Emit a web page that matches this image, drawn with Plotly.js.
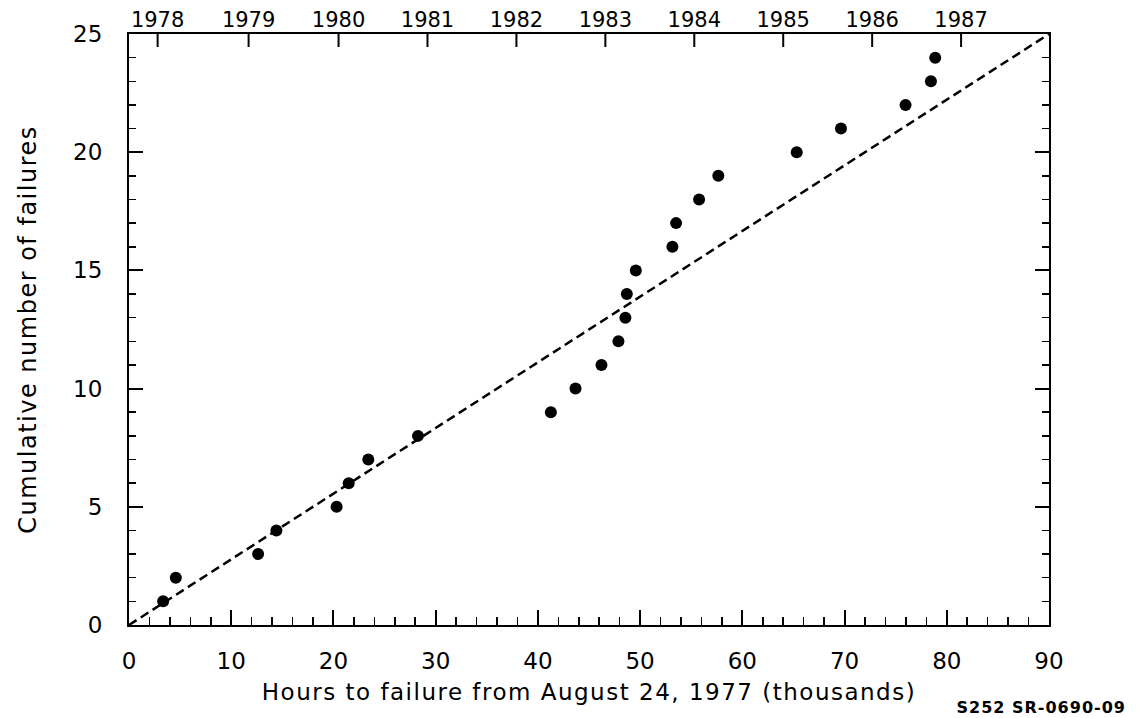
<!DOCTYPE html>
<html>
<head>
<meta charset="utf-8">
<script src="https://cdn.plot.ly/plotly-3.0.1.min.js"></script>
<style>
html,body{margin:0;padding:0;background:#fff;}
#chart{width:1140px;height:718px;}
#chart .xtitle{letter-spacing:1.5px;}
#chart .ytitle{letter-spacing:1.5px;}
#chart .annotation-text{letter-spacing:1px;}
</style>
</head>
<body>
<div id="chart"></div>
<script>
// Hours to failure (thousands) and cumulative number of failures
const hoursToFailure = [3.34, 4.58, 12.63, 14.42, 20.31, 21.49, 23.41, 28.27,
  41.27, 43.68, 46.22, 47.88, 48.56, 48.70, 49.58, 53.16, 53.52, 55.77, 57.65,
  65.32, 69.65, 75.97, 78.45, 78.87];
const cumulativeFailures = [1, 2, 3, 4, 5, 6, 7, 8, 9, 10, 11, 12, 13, 14, 15,
  16, 17, 18, 19, 20, 21, 22, 23, 24];
// Fitted trend line endpoints
const fitHours = [0, 90];
const fitFailures = [0, 25];
// Top axis: calendar years
const yearTickVals = [2.8, 11.7, 20.5, 29.2, 37.9, 46.6, 55.3, 64.0, 72.7, 81.4];
const yearTickText = ['1978', '1979', '1980', '1981', '1982', '1983', '1984', '1985', '1986', '1987'];
// Bottom / left axis ticks
const hourTickVals = [0, 10, 20, 30, 40, 50, 60, 70, 80, 90];
const failureTickVals = [0, 5, 10, 15, 20, 25];

const FONT = 'DejaVu Sans, sans-serif';
const PLOT_H = 718 - 34 - 93;      // plot area height (px)
const TOP_TICK_LEN = 13;           // inward length of the year ticks (px)

// Inward year ticks on the top axis, placed at the year positions
const yearTickShapes = yearTickVals.map(v => ({
  type: 'line', xref: 'x', yref: 'paper',
  x0: v, x1: v, y0: 1, y1: 1 - TOP_TICK_LEN / PLOT_H,
  line: {color: '#000', width: 2}, layer: 'above'
}));

const traces = [
  {
    x: fitHours, y: fitFailures, mode: 'lines', type: 'scatter',
    line: {color: '#000', width: 2.5, dash: '9px,5px'},
    hoverinfo: 'skip', showlegend: false
  },
  {
    x: hoursToFailure, y: cumulativeFailures, mode: 'markers', type: 'scatter',
    marker: {color: '#000', size: 12},
    showlegend: false
  },
  {
    // carries the top (year) labels
    x: fitHours, y: fitFailures, mode: 'lines', type: 'scatter',
    xaxis: 'x2', yaxis: 'y',
    line: {color: 'rgba(0,0,0,0)', width: 0},
    hoverinfo: 'skip', showlegend: false
  }
];

const layout = {
  width: 1140, height: 718,
  margin: {l: 128.5, r: 91, t: 34, b: 93, pad: 0},
  paper_bgcolor: '#fff', plot_bgcolor: '#fff',
  font: {family: FONT, color: '#000'},
  showlegend: false,
  xaxis: {
    range: [0, 90], tickvals: hourTickVals, ticks: 'inside', ticklen: 15, tickwidth: 2,
    tickcolor: '#000', showline: true, linewidth: 2, linecolor: '#000', mirror: true,
    showgrid: false, zeroline: false,
    minor: {ticks: 'inside', ticklen: 8, tickwidth: 1.5, dtick: 2, tick0: 0, tickcolor: '#000', showgrid: false},
    tickfont: {family: FONT, size: 23, color: '#000'},
    ticklabelstandoff: 14,
    title: {text: 'Hours to failure from August 24, 1977 (thousands)', font: {family: FONT, size: 23, color: '#000'}, standoff: 11}
  },
  xaxis2: {
    overlaying: 'x', side: 'top', range: [0, 90], anchor: 'y',
    tickmode: 'array', tickvals: yearTickVals, ticktext: yearTickText,
    ticks: '', showline: false, showgrid: false, zeroline: false,
    tickfont: {family: FONT, size: 21, color: '#000'},
    ticklabelstandoff: 2
  },
  yaxis: {
    range: [0, 25], tickvals: failureTickVals, ticks: 'inside', ticklen: 14, tickwidth: 2,
    tickcolor: '#000', showline: true, linewidth: 2, linecolor: '#000', mirror: 'ticks',
    showgrid: false, zeroline: false,
    minor: {ticks: 'inside', ticklen: 7, tickwidth: 1.5, dtick: 1, tick0: 0, tickcolor: '#000', showgrid: false},
    tickfont: {family: FONT, size: 23, color: '#000'},
    ticklabelstandoff: 20,
    title: {text: 'Cumulative number of failures', font: {family: FONT, size: 24, color: '#000'}, standoff: 30}
  },
  shapes: yearTickShapes,
  annotations: [
    {
      text: '<b>S252 SR-0690-09</b>', xref: 'x', yref: 'paper', x: 81.5, y: -0.139,
      xanchor: 'left', yanchor: 'middle', showarrow: false,
      font: {family: FONT, size: 16, color: '#000'}
    }
  ]
};

Plotly.newPlot('chart', traces, layout, {displayModeBar: false, staticPlot: true});
</script>
</body>
</html>
